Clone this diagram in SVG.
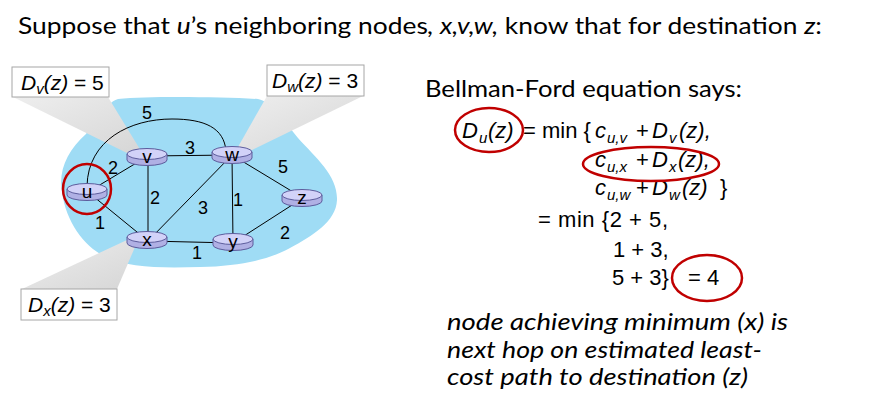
<svg xmlns="http://www.w3.org/2000/svg" width="881" height="414" viewBox="0 0 881 414">
<style>
.edge{fill:none;stroke:#000;stroke-width:1}
.w{font-family:"Liberation Sans",Arial,sans-serif;font-size:18px;fill:#000;text-anchor:middle}
.nl{font-family:"Liberation Sans",Arial,sans-serif;font-size:19px;fill:#000;text-anchor:middle}
.body{fill:#b0b0e4;stroke:#5c5c9c;stroke-width:1}
.top{fill:#d2d2f8;stroke:#5c5c9c;stroke-width:1}
.box{fill:#fff;stroke:#a6a6a6;stroke-width:1}
.bt{font-family:"Liberation Sans",Arial,sans-serif;font-size:21px;fill:#000}
.it{font-style:italic}
.eq{font-family:"Liberation Sans",Arial,sans-serif;font-size:22px;fill:#000}
.sub{font-family:"Liberation Sans",Arial,sans-serif;font-size:15px;fill:#000;font-style:italic}
.red{fill:none;stroke:#c00000;stroke-width:2.5}
.cal{font-family:Lato,"Liberation Sans",sans-serif;fill:#000}
.wedge{fill:url(#wg)}
</style>
<defs>
<linearGradient id="wg" x1="0" y1="0" x2="1" y2="1">
<stop offset="0" stop-color="#eeeeee"/>
<stop offset="1" stop-color="#d6d6d6"/>
</linearGradient>
<g id="router">
<path class="body" d="M-20,-3 v6 a20,5.5 0 0 0 40,0 v-6 z"/>
<ellipse class="top" cx="0" cy="-3" rx="20" ry="5.5"/>
</g>
</defs>

<text class="cal" x="18" y="34" font-size="24" textLength="804" lengthAdjust="spacingAndGlyphs">Suppose that <tspan font-style="italic">u</tspan>’s neighboring nodes<tspan font-style="italic">, x,v,w,</tspan> know that for destination <tspan font-style="italic">z</tspan>:</text>

<path id="cloud" fill="#9fdcf5" d="M62,192 C58,170 68,150 86,134 C98,120 104,104 118,99 C150,96 220,97 258,99 C272,102 282,118 298,138 C316,158 338,176 337,200 C336,222 312,236 290,248 C268,260 240,266 200,267 C160,268 128,268 104,256 C84,246 66,222 62,192 Z"/>

<g id="wedges">
<polygon class="wedge" points="13,97 108,97 141,151 127,153"/>
<polygon class="wedge" points="267,96 363,96 252,150 238,147"/>
<polygon class="wedge" points="22,289 117,289 135,247 127,240"/>
</g>

<g id="connectors">
<path class="edge" d="M87,186 C88,140 130,119 172,119 C205,119 224,128 226,151"/>
<line class="edge" x1="88" y1="192" x2="148" y2="156"/>
<line class="edge" x1="88" y1="192" x2="148" y2="241"/>
<line class="edge" x1="148" y1="156" x2="148" y2="241"/>
<line class="edge" x1="148" y1="156" x2="232" y2="155"/>
<line class="edge" x1="148" y1="241" x2="232" y2="155"/>
<line class="edge" x1="148" y1="241" x2="233" y2="243"/>
<line class="edge" x1="232" y1="155" x2="233" y2="243"/>
<line class="edge" x1="232" y1="155" x2="303" y2="198"/>
<line class="edge" x1="233" y1="243" x2="303" y2="198"/>
<text class="w" x="147" y="119">5</text>
<text class="w" x="190" y="154">3</text>
<text class="w" x="113" y="174">2</text>
<text class="w" x="283" y="173">5</text>
<text class="w" x="155" y="204">2</text>
<text class="w" x="203" y="214">3</text>
<text class="w" x="238" y="206">1</text>
<text class="w" x="100" y="229">1</text>
<text class="w" x="285" y="239">2</text>
<text class="w" x="197" y="259">1</text>
</g>

<g id="node-u" transform="translate(87,192)"><use href="#router"/><text class="nl" x="0" y="6">u</text></g>
<g id="node-v" transform="translate(147,157)"><use href="#router"/><text class="nl" x="0" y="6">v</text></g>
<g id="node-w" transform="translate(232,155)"><use href="#router"/><text class="nl" x="0" y="6">w</text></g>
<g id="node-z" transform="translate(302,198)"><use href="#router"/><text class="nl" x="0" y="6">z</text></g>
<g id="node-x" transform="translate(147,240)"><use href="#router"/><text class="nl" x="0" y="6">x</text></g>
<g id="node-y" transform="translate(233,242)"><use href="#router"/><text class="nl" x="0" y="6">y</text></g>

<ellipse class="red" cx="87" cy="189" rx="24" ry="25" stroke-width="3"/>

<g id="box-dv">
<rect class="box" x="12" y="67" width="97" height="30"/>
<text class="bt" x="21" y="90"><tspan class="it">D</tspan><tspan class="it" font-size="15" dy="4">v</tspan><tspan class="it" dy="-4">(z)</tspan> = 5</text>
</g>
<g id="box-dw">
<rect class="box" x="267" y="65" width="97" height="31"/>
<text class="bt" x="272" y="88"><tspan class="it">D</tspan><tspan class="it" font-size="15" dy="4">w</tspan><tspan class="it" dy="-4">(z)</tspan> = 3</text>
</g>
<g id="box-dx">
<rect class="box" x="21" y="289" width="96" height="31"/>
<text class="bt" x="28" y="312"><tspan class="it">D</tspan><tspan class="it" font-size="15" dy="4">x</tspan><tspan class="it" dy="-4">(z)</tspan> = 3</text>
</g>

<text class="cal" x="425" y="97" font-size="24" textLength="317" lengthAdjust="spacingAndGlyphs">Bellman-Ford equation says:</text>

<g id="equation">
<text class="eq it" x="462" y="138">D</text>
<text class="sub" x="479" y="143">u</text>
<text class="eq it" x="488" y="138">(z)</text>
<text class="eq" x="523" y="138">= min {</text>
<text class="eq it" x="595" y="138">c</text>
<text class="sub" x="607" y="143">u,v</text>
<text class="eq" x="636" y="138">+</text>
<text class="eq it" x="652" y="138">D</text>
<text class="sub" x="669" y="143">v</text>
<text class="eq it" x="679" y="138">(z),</text>

<text class="eq it" x="595" y="167">c</text>
<text class="sub" x="607" y="172">u,x</text>
<text class="eq" x="636" y="167">+</text>
<text class="eq it" x="652" y="167">D</text>
<text class="sub" x="669" y="172">x</text>
<text class="eq it" x="678" y="167">(z),</text>

<text class="eq it" x="595" y="195">c</text>
<text class="sub" x="607" y="200">u,w</text>
<text class="eq" x="636" y="195">+</text>
<text class="eq it" x="652" y="195">D</text>
<text class="sub" x="669" y="200">w</text>
<text class="eq it" x="682" y="195">(z)</text>
<text class="eq" x="720" y="195">}</text>

<text class="eq" x="538" y="227" textLength="130" lengthAdjust="spacing">= min {2 + 5,</text>
<text class="eq" x="613" y="257">1 + 3,</text>
<text class="eq" x="612" y="285">5 + 3}</text>
<text class="eq" x="688" y="285">= 4</text>

<ellipse class="red" cx="489" cy="130" rx="34" ry="22"/>
<ellipse class="red" cx="651" cy="164" rx="68" ry="17"/>
<ellipse class="red" cx="707" cy="278" rx="35" ry="23"/>
</g>

<g id="note" class="cal" font-size="24" font-style="italic">
<text x="447" y="330" textLength="341" lengthAdjust="spacingAndGlyphs">node achieving minimum (x) is</text>
<text x="447" y="358" textLength="315" lengthAdjust="spacingAndGlyphs">next hop on estimated least-</text>
<text x="447" y="385" textLength="301" lengthAdjust="spacingAndGlyphs">cost path to destination (z)</text>
</g>
</svg>
